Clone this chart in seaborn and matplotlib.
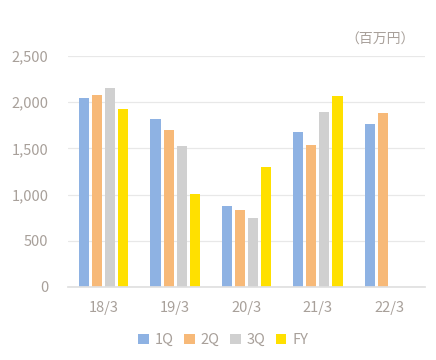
import matplotlib
matplotlib.use("Agg")
import matplotlib.pyplot as plt
import seaborn as sns
import pandas as pd
from matplotlib.ticker import FuncFormatter
from matplotlib.patches import Patch

categories = ["18/3", "19/3", "20/3", "21/3", "22/3"]
series = ["1Q", "2Q", "3Q", "FY"]
q1 = [2045, 1818, 877, 1677, 1764]
q2 = [2078, 1699, 833, 1537, 1883]
q3 = [2154, 1526, 747, 1894, None]
fy = [1926, 1006, 1302, 2067, None]
colors = ["#8EB2E3", "#F7B978", "#D0D0D0", "#FFE000"]

rows = []
for s, vals in zip(series, [q1, q2, q3, fy]):
    for c, v in zip(categories, vals):
        rows.append({"cat": c, "series": s, "value": v})
df = pd.DataFrame(rows)

sns.set_theme(style="white")
plt.rcParams['font.family'] = ['Noto Sans CJK JP', 'DejaVu Sans']
text_col = "#A8A09A"

fig = plt.figure(figsize=(4.36, 3.6), dpi=100)
ax = fig.add_axes([68/436, 1-287/360, 357/436, 231/360])
sns.barplot(data=df, x="cat", y="value", hue="series", order=categories,
            hue_order=series, palette=colors, width=0.73, gap=0.22,
            ax=ax, legend=False, saturation=1, linewidth=0)

ax.set_ylim(0, 2500)
ax.set_yticks([0, 500, 1000, 1500, 2000, 2500])
ax.yaxis.set_major_formatter(FuncFormatter(lambda v, p: f"{int(v):,}"))
ax.grid(axis="y", color="#E8E8E8", linewidth=0.9)
ax.set_axisbelow(True)
for sp in ["top", "right", "left"]:
    ax.spines[sp].set_visible(False)
ax.spines["bottom"].set_color("#E0E0E0")
ax.tick_params(axis="both", length=0, colors=text_col, labelsize=10.5)
ax.tick_params(axis="y", pad=14)
ax.tick_params(axis="x", pad=10)
ax.set_xlabel("")
ax.set_ylabel("")

fig.text(415/436, 1-40/360, "（百万円）", ha="right", va="center",
         color=text_col, fontsize=10)

handles = [Patch(facecolor=c, edgecolor="none", linewidth=0) for c in colors]
leg = fig.legend(handles, series, loc="center", bbox_to_anchor=(223/436, 1-340/360),
                 ncol=4, frameon=False, fontsize=10.5, handlelength=0.75,
                 handleheight=0.75, handletextpad=0.4, columnspacing=0.7)
for t in leg.get_texts():
    t.set_color(text_col)

fig.savefig("out.png", dpi=100, facecolor="white")
